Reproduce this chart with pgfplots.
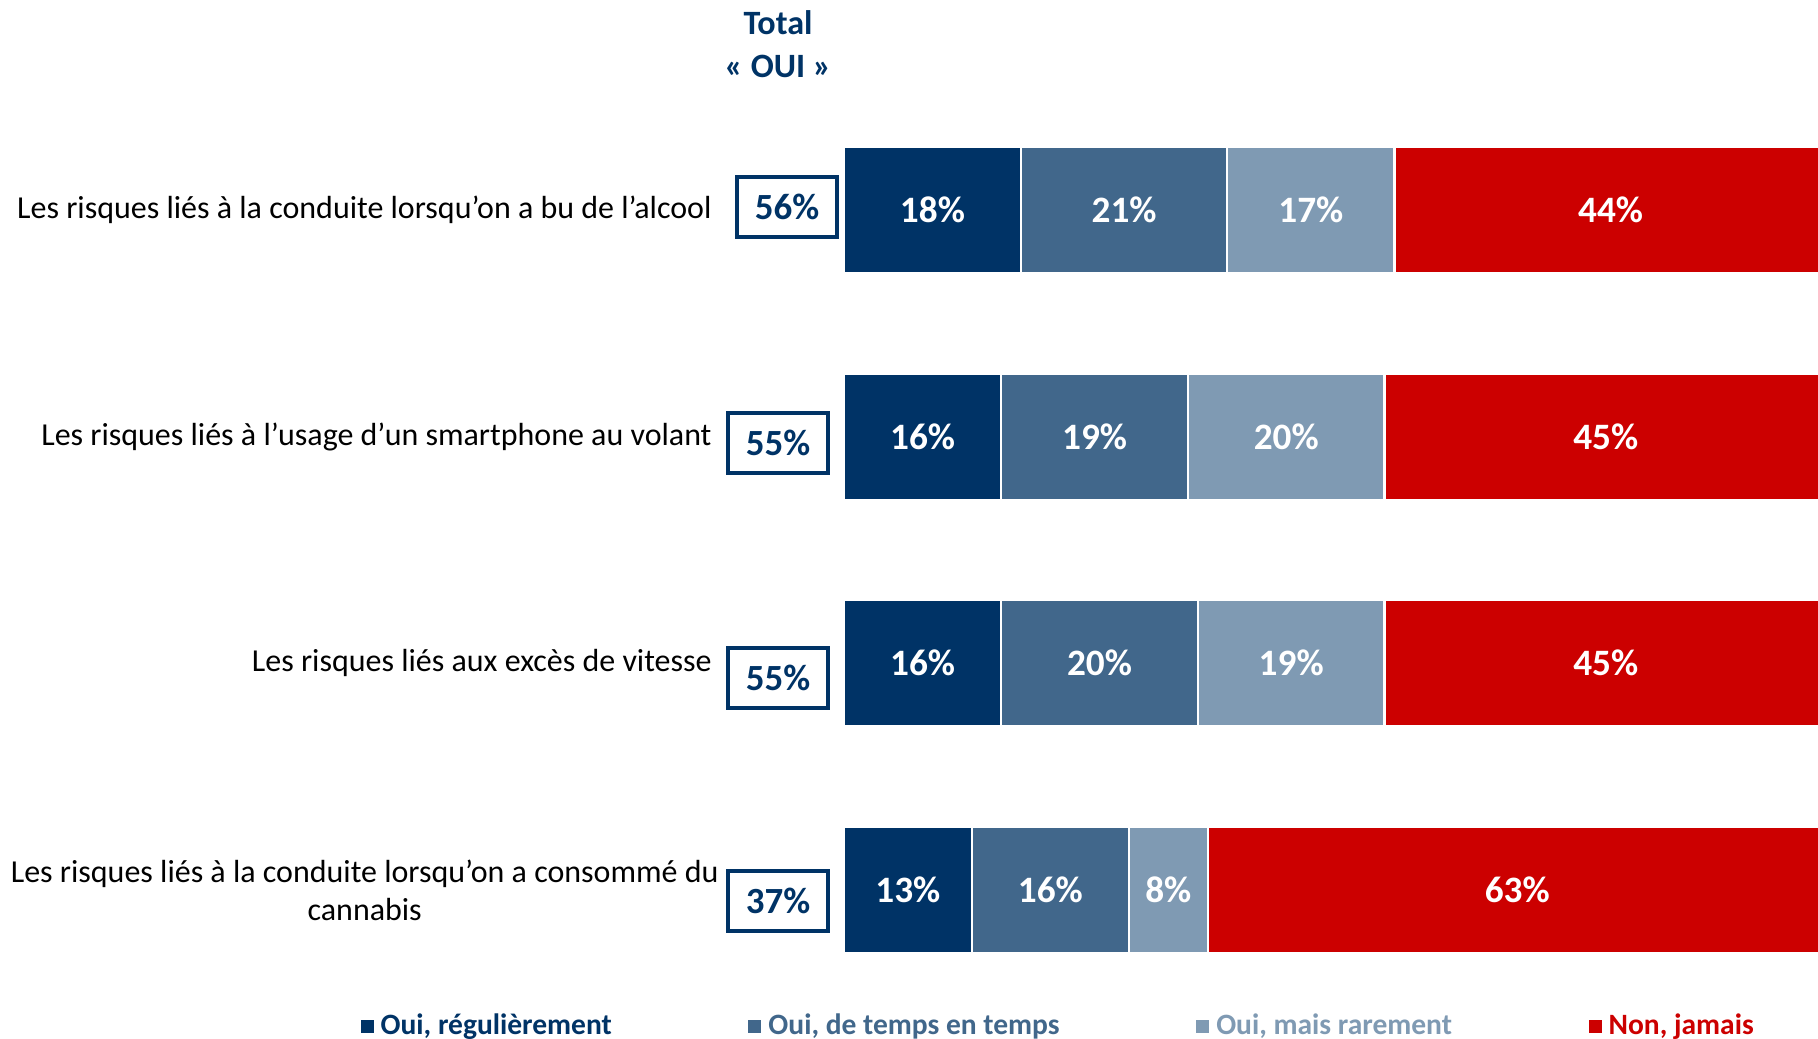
\documentclass[border=0pt]{standalone}
\usepackage{fontspec}
\setmainfont{Carlito}
\usepackage{pgfplots}
\pgfplotsset{compat=1.18}

\definecolor{navy}{RGB}{0,51,102}
\definecolor{midblue}{RGB}{65,103,139}
\definecolor{lightblue}{RGB}{127,154,179}
\definecolor{redno}{RGB}{204,0,0}

\begin{document}
\begin{tikzpicture}
\useasboundingbox (0,0) rectangle (181.8mm,103.9mm);

% Total "OUI" heading
\node[font=\fontsize{9.7}{12.2}\selectfont\bfseries, text=navy, align=center]
  at (77.8mm,99.5mm) {Total\\«~OUI~»};

\begin{axis}[
    at={(84.4mm,3.57mm)}, anchor=south west,
    scale only axis,
    width=97.4mm, height=90.67mm,
    xbar stacked,
    bar width=12.6mm,
    xmin=0, xmax=99.1,
    ymin=-0.5, ymax=3.5,
    axis line style={draw=none},
    tick style={draw=none},
    xtick=\empty,
    ytick={0,1,2,3},
    yticklabels={{Les risques liés à la conduite lorsqu’on a consommé du\\cannabis},
                 {Les risques liés aux excès de vitesse},
                 {Les risques liés à l’usage d’un smartphone au volant},
                 {Les risques liés à la conduite lorsqu’on a bu de l’alcool}},
    yticklabel style={font=\fontsize{9.1}{10.8}\selectfont, align=center,
        xshift={(\ticknum==0)*0.7mm-12.0mm}},
    clip=false,
    visualization depends on={rawx \as \rawx},
    nodes near coords={\pgfmathprintnumber[assume math mode=true,fixed,precision=0]{\rawx}\%},
    every node near coord/.style={font=\fontsize{10.6}{12}\selectfont\bfseries, text=white,
        anchor=center},
    every axis plot/.append style={draw=white, line width=0.22mm},
    legend columns=4,
    legend style={at={(-0.497,-0.026)}, anchor=west, draw=none, inner sep=0pt,
        font=\fontsize{8.4}{10}\selectfont\bfseries,
        /tikz/every even column/.append style={column sep=12.95mm}},
    legend image code/.code={\fill[#1, draw=none] (0mm,-0.65mm) rectangle (1.3mm,0.65mm);},
]
\addplot[fill=navy] coordinates {(13,0) (16,1) (16,2) (18,3)};
\addlegendentry{\textcolor{navy}{Oui, régulièrement}}
\addplot[fill=midblue] coordinates {(16,0) (20,1) (19,2) (21,3)};
\addlegendentry{\textcolor{midblue}{Oui, de temps en temps}}
\addplot[fill=lightblue] coordinates {(8,0) (19,1) (20,2) (17,3)};
\addlegendentry{\textcolor{lightblue}{Oui, mais rarement}}
\addplot[fill=redno] coordinates {(63,0) (45,1) (45,2) (44,3)};
\addlegendentry{\textcolor{redno}{Non, jamais}}

% Total "OUI" boxes
\foreach \yy/\xx/\dy/\tot in {3/-5.8/-0.3/56, 2/-6.7/0.65/55, 1/-6.7/1.45/55, 0/-6.7/1.1/37}{
  \edef\temp{\noexpand\node[draw=navy, line width=0.45mm, minimum width=10.0mm, minimum height=6.0mm,
      inner sep=0pt, font=\noexpand\fontsize{10.5}{12}\noexpand\selectfont\noexpand\bfseries, text=navy,
      yshift=-\dy mm] at (axis cs:\xx,\yy) {\tot\noexpand\%};}
  \temp
}
\end{axis}
\end{tikzpicture}
\end{document}
